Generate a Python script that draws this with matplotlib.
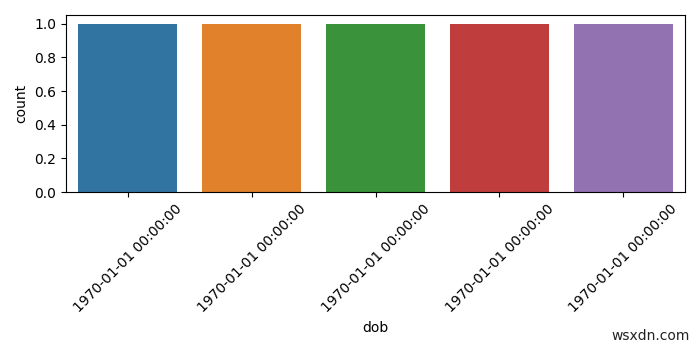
import matplotlib
matplotlib.use("Agg")
import matplotlib.pyplot as plt

categories = ["1970-01-01 00:00:00"] * 5
counts = [1, 1, 1, 1, 1]
colors = ["#3274a1", "#e1812c", "#3a923a", "#c03d3e", "#9372b2"]

fig = plt.figure(figsize=(7, 3.5), dpi=100)
ax = fig.add_axes([0.094, 0.451, 0.885, 0.505])
pos = list(range(len(counts)))
ax.bar(pos, counts, width=0.8, color=colors)
ax.set_xlim(-0.5, len(counts) - 0.5)
ax.set_ylim(0, 1.05)
ax.set_xticks(pos)
ax.set_xticklabels(categories, rotation=45)
ax.set_xlabel("dob")
ax.set_ylabel("count")
fig.text(0.985, 0.02, "wsxdn.com", ha="right", va="bottom", fontsize=10, color="#222222")
fig.savefig("out.png", dpi=100)
